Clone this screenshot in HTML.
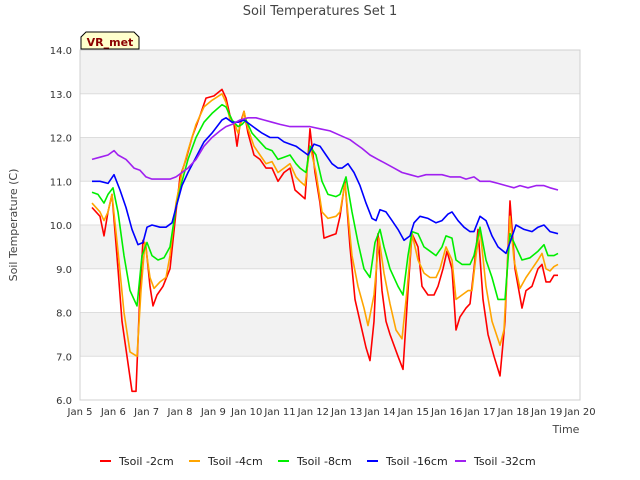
<!DOCTYPE html>
<html><head><meta charset="utf-8"><style>
body{margin:0;background:#fff;}
svg{display:block;font-family:"DejaVu Sans","Liberation Sans",sans-serif;}
</style></head><body>
<svg id="chart" width="640" height="480" viewBox="0 0 640 480">
<rect x="0" y="0" width="640" height="480" fill="#fff"/>
<text x="320" y="15" text-anchor="middle" font-size="13" fill="#444">Soil Temperatures Set 1</text>
<g id="bands"></g>
<g id="grid"></g>
<rect x="80" y="50" width="500" height="350" fill="none" stroke="#d0d0d0" stroke-width="1"/>
<g id="yticks"></g>
<g id="xticks"></g>
<g id="series"></g>
<text x="17" y="225" transform="rotate(-90 17 225)" text-anchor="middle" font-size="11" fill="#444">Soil Temperature (C)</text>
<text x="566" y="433" text-anchor="middle" font-size="11" fill="#444">Time</text>
<g>
<path d="M81,49 L81,37 L86,32 L134,32 L139,37 L139,49 Z" fill="#ffffcc" stroke="#000" stroke-width="1"/>
<text x="110" y="46" text-anchor="middle" font-size="11" font-weight="bold" fill="#8b0000">VR_met</text>
</g>
<g id="legend"></g>
</svg>
<script>
const seriesNames=["Tsoil -2cm","Tsoil -4cm","Tsoil -8cm","Tsoil -16cm","Tsoil -32cm"];
const seriesColors=["#ff0000","#ffa500","#00ee00","#0000ff","#a020f0"];
const yTicks=[6,7,8,9,10,11,12,13,14];
const xTickLabels=["Jan 5","Jan 6","Jan 7","Jan 8","Jan 9","Jan 10","Jan 11","Jan 12","Jan 13","Jan 14","Jan 15","Jan 16","Jan 17","Jan 18","Jan 19","Jan 20"];
// times in days since Jan 5
const t2=[0.36,0.6,0.72,0.84,0.96,1.14,1.26,1.41,1.56,1.68,1.8,1.89,1.98,2.1,2.19,2.31,2.49,2.7,2.88,3.0,3.18,3.36,3.6,3.78,4.02,4.26,4.38,4.5,4.62,4.71,4.8,4.92,5.04,5.22,5.4,5.58,5.76,5.94,6.12,6.3,6.45,6.6,6.75,6.9,7.05,7.2,7.32,7.5,7.68,7.8,7.95,8.1,8.25,8.4,8.58,8.7,8.82,8.94,9.06,9.18,9.3,9.54,9.69,9.84,9.96,10.14,10.26,10.44,10.62,10.74,10.89,11.01,11.16,11.28,11.4,11.58,11.7,11.82,11.94,12.09,12.24,12.42,12.6,12.75,12.9,13.05,13.26,13.38,13.56,13.74,13.86,13.98,14.1,14.22,14.34];
const v2=[10.4,10.2,9.75,10.3,10.7,9.0,7.8,7.0,6.2,6.2,8.5,9.65,9.5,8.6,8.15,8.4,8.6,9.0,10.3,11.1,11.5,12.0,12.5,12.9,12.95,13.1,12.9,12.5,12.3,11.8,12.3,12.6,12.1,11.6,11.5,11.3,11.3,11.0,11.2,11.3,10.8,10.7,10.6,12.2,11.2,10.5,9.7,9.75,9.8,10.2,11.0,9.5,8.3,7.8,7.2,6.9,7.8,9.8,8.5,7.8,7.5,7.0,6.7,8.5,9.8,9.5,8.6,8.4,8.4,8.6,9.0,9.4,9.0,7.6,7.9,8.1,8.2,9.0,9.9,8.3,7.5,7.0,6.55,7.8,10.55,9.0,8.1,8.5,8.6,9.0,9.1,8.7,8.7,8.85,8.85];
const t4=[0.36,0.6,0.72,0.84,0.96,1.14,1.32,1.5,1.71,1.83,1.95,2.1,2.22,2.4,2.58,2.7,2.88,3.06,3.24,3.48,3.72,3.96,4.26,4.38,4.5,4.65,4.74,4.86,4.92,5.04,5.22,5.4,5.58,5.76,5.94,6.12,6.3,6.48,6.6,6.75,6.9,7.08,7.26,7.44,7.68,7.8,7.95,8.16,8.34,8.52,8.64,8.82,8.97,9.12,9.3,9.48,9.66,9.81,9.96,10.14,10.32,10.5,10.68,10.8,10.98,11.16,11.28,11.46,11.64,11.76,11.88,12.0,12.18,12.36,12.6,12.72,12.9,13.02,13.2,13.38,13.56,13.74,13.86,13.98,14.1,14.22,14.34];
const v4=[10.5,10.3,10.1,10.3,10.7,9.4,8.0,7.1,7.0,8.5,9.6,8.8,8.55,8.7,8.8,9.3,10.5,11.2,11.7,12.3,12.7,12.85,13.0,12.8,12.4,12.3,12.1,12.4,12.6,12.2,11.8,11.6,11.4,11.45,11.2,11.3,11.4,11.1,11.0,10.9,11.8,11.2,10.3,10.15,10.2,10.3,10.95,9.3,8.6,8.1,7.7,8.4,9.7,8.9,8.2,7.6,7.4,8.5,9.8,9.2,8.9,8.8,8.8,9.0,9.5,9.2,8.3,8.4,8.5,8.5,9.3,9.9,8.6,7.8,7.25,7.6,10.2,9.2,8.55,8.8,9.0,9.2,9.35,9.0,8.95,9.05,9.1];
const t8=[0.36,0.54,0.72,0.84,0.99,1.14,1.32,1.5,1.71,1.86,2.01,2.16,2.34,2.52,2.7,2.88,3.06,3.24,3.48,3.72,3.96,4.26,4.38,4.56,4.74,4.86,4.98,5.16,5.4,5.58,5.76,5.94,6.12,6.3,6.48,6.6,6.78,6.9,7.08,7.26,7.44,7.68,7.8,7.98,8.16,8.34,8.52,8.7,8.85,9.0,9.12,9.3,9.54,9.69,9.84,9.96,10.14,10.32,10.5,10.68,10.86,10.98,11.16,11.28,11.46,11.7,11.82,12.0,12.18,12.36,12.54,12.75,12.9,13.08,13.26,13.5,13.74,13.92,14.04,14.22,14.34];
const v8=[10.75,10.7,10.5,10.7,10.85,10.3,9.3,8.5,8.15,9.3,9.6,9.3,9.2,9.25,9.5,10.4,11.0,11.5,12.0,12.35,12.55,12.75,12.7,12.4,12.25,12.3,12.4,12.1,11.9,11.75,11.7,11.5,11.55,11.6,11.4,11.3,11.2,11.8,11.6,11.0,10.7,10.65,10.7,11.1,10.3,9.6,9.0,8.8,9.6,9.9,9.5,9.0,8.6,8.4,9.3,9.85,9.8,9.5,9.4,9.3,9.5,9.75,9.7,9.2,9.1,9.1,9.3,9.95,9.2,8.8,8.3,8.3,9.8,9.5,9.2,9.25,9.4,9.55,9.3,9.3,9.35];
const t16=[0.36,0.6,0.84,1.02,1.2,1.38,1.56,1.74,1.89,2.01,2.16,2.4,2.58,2.76,2.88,3.06,3.24,3.48,3.72,3.96,4.26,4.38,4.56,4.74,4.92,5.1,5.28,5.46,5.7,5.94,6.12,6.3,6.48,6.66,6.84,7.02,7.2,7.38,7.56,7.74,7.86,8.04,8.22,8.4,8.58,8.76,8.88,9.0,9.18,9.36,9.54,9.72,9.9,10.02,10.2,10.44,10.68,10.86,11.04,11.16,11.34,11.52,11.7,11.82,12.0,12.18,12.36,12.54,12.78,12.9,13.08,13.32,13.56,13.74,13.92,14.1,14.34];
const v16=[11.0,11.0,10.95,11.15,10.8,10.4,9.9,9.55,9.6,9.95,10.0,9.95,9.95,10.05,10.4,10.9,11.2,11.55,11.9,12.1,12.4,12.45,12.35,12.35,12.4,12.3,12.2,12.1,12.0,12.0,11.9,11.85,11.8,11.7,11.6,11.85,11.8,11.6,11.4,11.3,11.3,11.4,11.2,10.9,10.5,10.15,10.1,10.35,10.3,10.1,9.9,9.65,9.75,10.05,10.2,10.15,10.05,10.1,10.25,10.3,10.1,9.95,9.85,9.85,10.2,10.1,9.75,9.5,9.35,9.6,10.0,9.9,9.85,9.95,10.0,9.85,9.8];
const t32=[0.36,0.6,0.84,1.02,1.14,1.38,1.62,1.8,1.98,2.16,2.4,2.7,2.88,3.06,3.24,3.48,3.72,3.96,4.2,4.38,4.56,4.8,5.04,5.28,5.52,5.76,6.0,6.3,6.6,6.9,7.2,7.5,7.8,8.1,8.28,8.46,8.7,8.94,9.18,9.42,9.66,9.9,10.14,10.38,10.62,10.86,11.1,11.4,11.58,11.82,12.0,12.3,12.54,12.78,13.02,13.2,13.44,13.68,13.92,14.1,14.34];
const v32=[11.5,11.55,11.6,11.7,11.6,11.5,11.3,11.25,11.1,11.05,11.05,11.05,11.1,11.2,11.3,11.5,11.8,12.0,12.15,12.25,12.3,12.4,12.45,12.45,12.4,12.35,12.3,12.25,12.25,12.25,12.2,12.15,12.05,11.95,11.85,11.75,11.6,11.5,11.4,11.3,11.2,11.15,11.1,11.15,11.15,11.15,11.1,11.1,11.05,11.1,11.0,11.0,10.95,10.9,10.85,10.9,10.85,10.9,10.9,10.85,10.8];
const seriesT=[t2,t4,t8,t16,t32];
const seriesV=[v2,v4,v8,v16,v32];

const NS="http://www.w3.org/2000/svg";
const L=80,R=580,T=50,B=400,yMin=6,yMax=14,xDays=15;
function xs(d){return L+(R-L)*d/xDays;}
function ys(v){return B-(B-T)*(v-yMin)/(yMax-yMin);}
function mk(tag,attrs,parent){const e=document.createElementNS(NS,tag);for(const k in attrs)e.setAttribute(k,attrs[k]);parent.appendChild(e);return e;}

const bands=document.getElementById('bands');
for(let v=yMin;v<yMax;v++){
  const r=mk('rect',{x:L,y:ys(v+1),width:R-L,height:ys(v)-ys(v+1),fill:(v%2===1)?'#f2f2f2':'#ffffff'},bands);
  
  
}
const grid=document.getElementById('grid');
const yt=document.getElementById('yticks');
yTicks.forEach(v=>{
  const l=mk('line',{x1:L,x2:R,y1:ys(v),y2:ys(v),stroke:'#dddddd','stroke-width':1},grid);
  
  
  const t=mk('text',{x:L-8,y:ys(v)+4,'text-anchor':'end','font-size':10,fill:'#333'},yt);
  t.textContent=v.toFixed(1);
  
  
});
const xt=document.getElementById('xticks');
xTickLabels.forEach((lab,i)=>{
  const t=mk('text',{x:xs(i),y:B+15,'text-anchor':'middle','font-size':10,fill:'#333'},xt);
  t.textContent=lab;
  
  
});
const sg=document.getElementById('series');
seriesV.forEach((vals,si)=>{
  const ts=seriesT[si];
  const pts=vals.map((v,i)=>xs(ts[i]).toFixed(1)+','+ys(v).toFixed(1)).join(' ');
  const p=mk('polyline',{points:pts,fill:'none',stroke:seriesColors[si],'stroke-width':1.6,'stroke-linejoin':'round'},sg);
  
  
});
const lg=document.getElementById('legend');
const lx=[100,189,278,367,455];
seriesNames.forEach((n,i)=>{
  const g=mk('g',{},lg);
  
  
  mk('line',{x1:lx[i],x2:lx[i]+11,y1:461,y2:461,stroke:seriesColors[i],'stroke-width':2},g);
  const t=mk('text',{x:lx[i]+19,y:465,'font-size':11,fill:'#222'},g);
  t.textContent=n;
});
</script>
</body></html>
